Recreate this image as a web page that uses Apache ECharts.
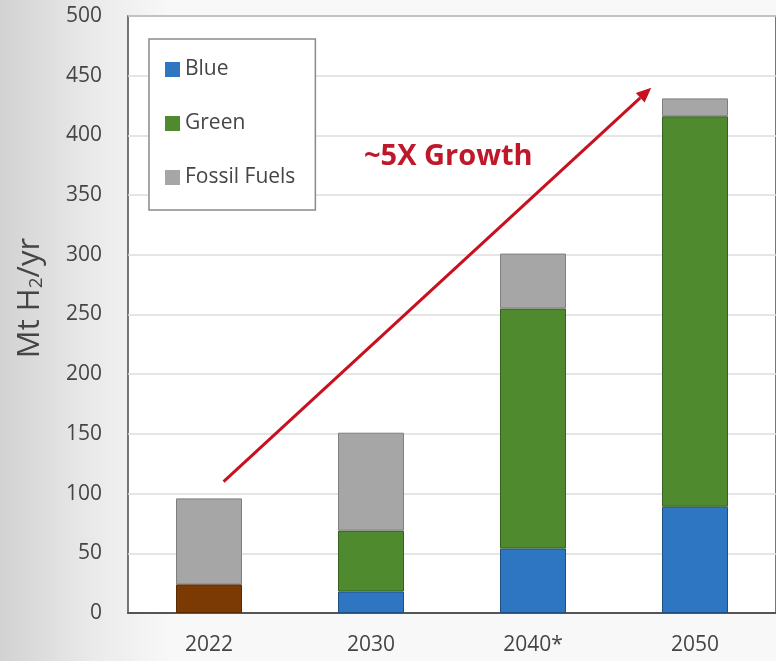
<!DOCTYPE html>
<html>
<head>
<meta charset="utf-8">
<script src="https://cdn.jsdelivr.net/npm/echarts@6/dist/echarts.min.js"></script>
<style>
html,body{margin:0;padding:0;background:#fff;}
#chart{width:776px;height:661px;}
</style>
</head>
<body>
<div id="chart"></div>
<script>
// ---- data ----
var categories = ['2022', '2030', '2040*', '2050'];
var blueValues = [null, 18, 54, 89];
var otherValues = [24, null, null, null];
var greenValues = [null, 51, 201, 327];
var fossilValues = [72, 82, 46, 15];
var yTicks = {min: 0, max: 500, interval: 50};
var annotationText = '~5X Growth';
// arrow endpoints in data space: [category index (fractional), value]
var arrowFrom = [0.09, 110];
var arrowTo = [2.73, 440];

var chart = echarts.init(document.getElementById('chart'), null, {renderer: 'canvas'});
var FONT = '"Open Sans", "DejaVu Sans", sans-serif';
var TXT = '#454545';

var option = {
  animation: false,
  backgroundColor: {
    type: 'linear', x: 0, y: 0, x2: 170, y2: 0, global: true,
    colorStops: [{offset: 0, color: '#d2d2d2'}, {offset: 0.55, color: '#eaeaea'}, {offset: 1, color: '#f8f8f8'}]
  },
  textStyle: {fontFamily: FONT},
  grid: {
    left: 128, top: 16, right: -4, bottom: 48,
    show: true, backgroundColor: '#ffffff', borderColor: '#4a4a4a', borderWidth: 1.5
  },
  legend: {
    data: ['Blue', 'Green', 'Fossil Fuels'],
    orient: 'vertical',
    left: 149, top: 39,
    padding: [20, 20, 22, 16],
    itemGap: 33,
    itemWidth: 15, itemHeight: 15,
    itemStyle: {borderWidth: 0},
    icon: 'rect',
    borderColor: '#8a8a8a', borderWidth: 1.5,
    backgroundColor: '#ffffff',
    textStyle: {fontSize: 21, color: TXT, fontFamily: FONT}
  },
  xAxis: {
    type: 'category',
    data: categories,
    axisTick: {show: false},
    axisLine: {lineStyle: {color: '#555', width: 2}},
    axisLabel: {fontSize: 21, color: TXT, margin: 22, fontFamily: FONT}
  },
  yAxis: {
    type: 'value',
    min: yTicks.min, max: yTicks.max, interval: yTicks.interval,
    axisLine: {show: false},
    axisTick: {show: false},
    splitLine: {lineStyle: {color: '#dcdcdc', width: 1.5}},
    axisLabel: {fontSize: 21, color: TXT, margin: 26, fontFamily: FONT}
  },
  series: [
    {name: 'Blue', type: 'bar', stack: 'total', barWidth: 66, data: blueValues,
     itemStyle: {color: '#2e75c2', borderColor: '#1f4f80', borderWidth: 1}},
    {name: 'Other', type: 'bar', stack: 'total', barWidth: 66, data: otherValues,
     itemStyle: {color: '#7b3a04', borderColor: '#5a2a03', borderWidth: 1}},
    {name: 'Green', type: 'bar', stack: 'total', barWidth: 66, data: greenValues,
     itemStyle: {color: '#4f8a2f', borderColor: '#35601f', borderWidth: 1}},
    {name: 'Fossil Fuels', type: 'bar', stack: 'total', barWidth: 66, data: fossilValues,
     itemStyle: {color: '#a6a6a6', borderColor: '#7f7f7f', borderWidth: 1}}
  ]
};
chart.setOption(option);

function toPx(pt) {
  var p0 = chart.convertToPixel({gridIndex: 0}, [0, pt[1]]);
  var p1 = chart.convertToPixel({gridIndex: 0}, [1, pt[1]]);
  return [p0[0] + (p1[0] - p0[0]) * pt[0], p0[1]];
}
var a = toPx(arrowFrom), b = toPx(arrowTo);
var dx = b[0] - a[0], dy = b[1] - a[1];
var len = Math.sqrt(dx * dx + dy * dy);
var ux = dx / len, uy = dy / len;
var headLen = 15, headW = 6.5;
var base = [b[0] - ux * headLen, b[1] - uy * headLen];
var nx = -uy, ny = ux;

chart.setOption({
  graphic: [
    {type: 'line', z: 100, shape: {x1: a[0], y1: a[1], x2: base[0], y2: base[1]},
     style: {stroke: '#c8101e', lineWidth: 3}},
    {type: 'polygon', z: 100, shape: {points: [
      b, [base[0] + nx * headW, base[1] + ny * headW], [base[0] - nx * headW, base[1] - ny * headW]
    ]}, style: {fill: '#c8101e'}},
    {type: 'text', z: 100, left: 364, top: 142,
     style: {text: annotationText, fill: '#c0182b', font: 'bold 29px ' + FONT}},
    {type: 'text', z: 100, x: 14, y: 298, rotation: Math.PI / 2,
     style: {text: 'Mt H{s|2}/yr', fill: TXT, font: '31px ' + FONT, align: 'center', verticalAlign: 'top',
       rich: {s: {fontSize: 19, fill: TXT, verticalAlign: 'bottom', padding: [13, 0, 0, 0], fontFamily: FONT}}}}
  ]
});
</script>
</body>
</html>
